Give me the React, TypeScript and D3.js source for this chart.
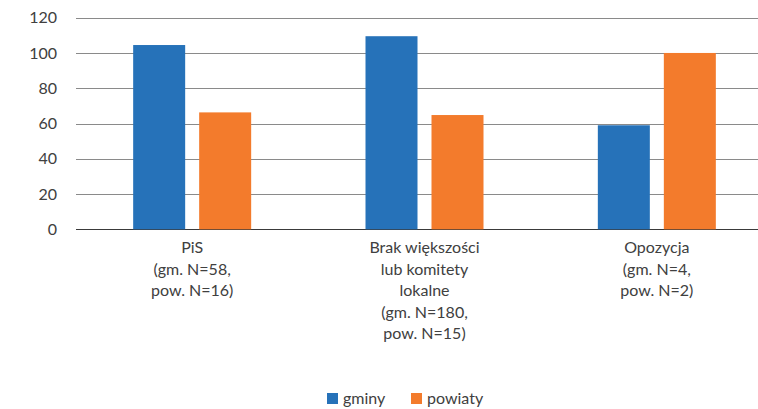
import React from "react";
import * as d3 from "d3";

const categories: string[][] = [
  ["PiS", "(gm. N=58,", "pow. N=16)"],
  ["Brak większości", "lub komitety", "lokalne", "(gm. N=180,", "pow. N=15)"],
  ["Opozycja", "(gm. N=4,", "pow. N=2)"],
];
const categoryKeys = ["PiS", "Brak", "Opozycja"];
const seriesNames = ["gminy", "powiaty"];
const gminy = [104.5, 109.5, 59];
const powiaty = [66.3, 64.8, 100];
const yTicks = [0, 20, 40, 60, 80, 100, 120];
const colors = ["#2672b9", "#f37b2c"];

export default function App() {
  const W = 758, H = 409;
  const x = d3.scaleBand<string>().domain(categoryKeys).range([76, 773]);
  const y = d3.scaleLinear().domain([0, 120]).range([229.3, 17.7]);
  const barW = 52, gap = 14;
  const series = [gminy, powiaty];
  const font = "Lato, 'Open Sans', sans-serif";
  const fs = 16;
  return (
    <svg width={W} height={H} style={{ position: "absolute", left: 0, top: 0, background: "#fff" }}>
      {yTicks.map((t) => (
        <g key={t}>
          <line x1={76} x2={W} y1={Math.round(y(t)) + 0.5} y2={Math.round(y(t)) + 0.5}
            stroke={t === 0 ? "#3a3a3a" : "#8a8a8a"} strokeWidth={1} />
          <text x={57} y={y(t)} dy="0.35em" textAnchor="end" fontFamily={font} fontSize={fs} fill="#404040">{t}</text>
        </g>
      ))}
      {categoryKeys.map((k, ci) => {
        const cx = (x(k) as number) + x.bandwidth() / 2;
        return (
          <g key={k}>
            {series.map((s, si) => {
              const bx = cx - barW - gap / 2 + si * (barW + gap);
              return <rect key={si} x={bx} y={y(s[ci])} width={barW} height={y(0) - y(s[ci])} fill={colors[si]} />;
            })}
            {categories[ci].map((line, li) => (
              <text key={li} x={cx} y={253 + li * 21.5} textAnchor="middle" fontFamily={font} fontSize={fs} fill="#404040">{line}</text>
            ))}
          </g>
        );
      })}
      {seriesNames.map((n, i) => {
        const lx = [327, 411][i];
        return (
          <g key={n}>
            <rect x={lx} y={393} width={11} height={11} fill={colors[i]} />
            <text x={lx + 16} y={404} fontFamily={font} fontSize={fs} fill="#404040">{n}</text>
          </g>
        );
      })}
    </svg>
  );
}
